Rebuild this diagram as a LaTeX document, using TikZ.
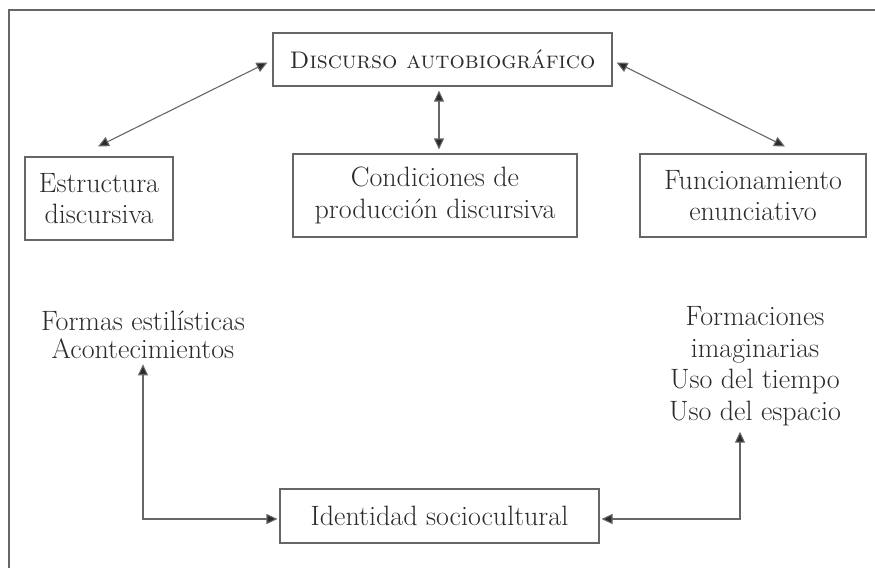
\documentclass[tikz,border=0pt]{standalone}
\usetikzlibrary{arrows.meta}
\definecolor{ln}{HTML}{666666}
\definecolor{tx}{HTML}{2B2B2B}
\begin{document}
\begin{tikzpicture}[x=1pt,y=-1pt,
  box/.style={draw=ln,line width=1.1pt,inner sep=0pt,align=center,text=tx,font=\fontsize{28}{31.5}\selectfont},
  plain/.style={inner sep=0pt,align=center,text=tx,font=\fontsize{28}{31.5}\selectfont},
  dbl/.style={draw=ln,line width=1.1pt,{Triangle[length=11pt,width=10pt,fill=tx]}-{Triangle[length=11pt,width=10pt,fill=tx]}},
  frame/.style={draw=ln,line width=1.3pt}]
\useasboundingbox (0,0) rectangle (875,568);
\draw[frame] (875,10) coordinate (fr1) -- (9,10) coordinate (fr2) -- (9,568) coordinate (fr3);
\node[box,minimum width=339pt,minimum height=53pt,font=\fontsize{24}{30}\selectfont] (disc) at (442.5,59.5) {\textsc{Discurso autobiográfico}};
\node[box,minimum width=148pt,minimum height=83pt] (estr) at (99,198.5) {Estructura\\discursiva};
\node[box,minimum width=284pt,minimum height=83pt] (cond) at (435,195.5) {Condiciones de\\producción discursiva};
\node[box,minimum width=226pt,minimum height=83pt] (func) at (753,195.5) {Funcionamiento\\enunciativo};
\node[box,minimum width=319pt,minimum height=54pt] (ident) at (439.5,516) {Identidad sociocultural};
\node[plain,font=\fontsize{28}{28.5}\selectfont] (formas) at (143,335) {Formas estilísticas\\Acontecimientos};
\node[plain] (formac) at (755,366) {Formaciones\\imaginarias\\Uso del tiempo\\Uso del espacio};
\draw[dbl] ([xshift=-5pt,yshift=-3pt]disc.west) -- ([xshift=-1pt,yshift=10pt]estr.north);
\draw[dbl] ([xshift=4pt,yshift=-3pt]disc.east) -- ([xshift=32pt,yshift=7pt]func.north);
\draw[dbl] ([xshift=-3.5pt,yshift=-4pt]disc.south) -- ([xshift=4pt,yshift=4pt]cond.north);
\draw[dbl] ([yshift=-5pt]formas.south) |- ([xshift=-2pt,yshift=-3pt]ident.west);
\draw[dbl] ([xshift=2pt,yshift=-3pt]ident.east) -| ([xshift=-15pt,yshift=-6pt]formac.south);
\end{tikzpicture}
\end{document}
